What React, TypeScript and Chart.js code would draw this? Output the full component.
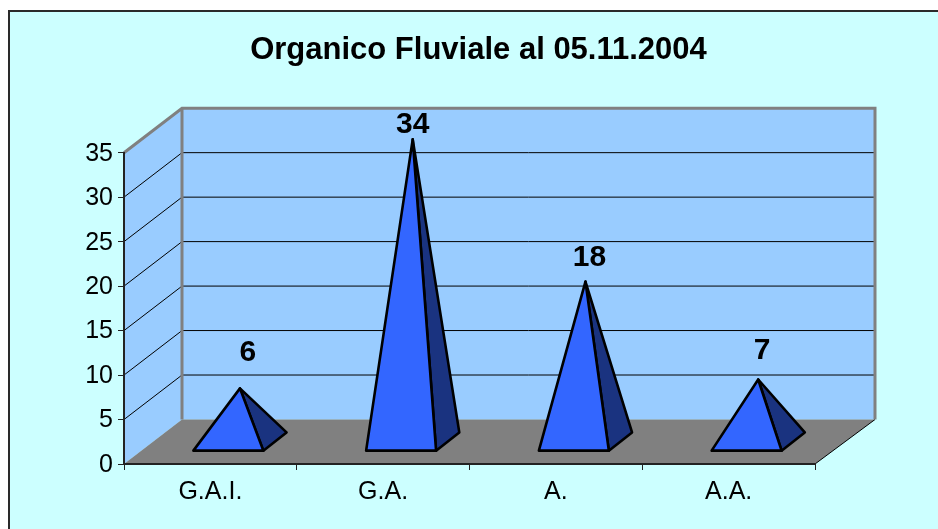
import React, { useEffect, useRef } from "react";
import { Chart, registerables } from "chart.js";

Chart.register(...registerables);

const categories = ["G.A.I.", "G.A.", "A.", "A.A."];
const organico = [6, 34, 18, 7];
const yMax = 35;
const yStep = 5;
const titleText = "Organico Fluviale al 05.11.2004";

const FONT = "'Liberation Sans', Arial, sans-serif";
const DEPTH_X = 58;
const DEPTH_X_RIGHT = 60;
const DEPTH_Y = 44.5;
const NUDGE = [[8, -35.5], [0, -15], [4, -24], [4, -29]];

const scene3d = {
  id: "scene3d",
  afterLayout(chart: any) {
    if (chart.titleBlock) {
      chart.titleBlock.left += 71;
      chart.titleBlock.right += 71;
    }
  },
  beforeDraw(chart: any) {
    const { ctx, chartArea: a, scales } = chart;
    const { left: l, right: r, top: t, bottom: b } = a;
    const dx = DEPTH_X, dxr = DEPTH_X_RIGHT, dy = DEPTH_Y;
    ctx.save();
    // page + chart frame
    ctx.fillStyle = "#ffffff";
    ctx.fillRect(0, 0, chart.width, chart.height);
    ctx.fillStyle = "#CCFFFF";
    ctx.fillRect(9, 11, chart.width, chart.height);
    ctx.strokeStyle = "#2a2a2a";
    ctx.lineWidth = 2;
    ctx.strokeRect(9, 11, chart.width + 20, chart.height + 20);

    const poly = (pts: number[][], fill: string) => {
      ctx.beginPath();
      pts.forEach((p, i) => (i ? ctx.lineTo(p[0], p[1]) : ctx.moveTo(p[0], p[1])));
      ctx.closePath();
      ctx.fillStyle = fill;
      ctx.fill();
    };
    poly([[l, t], [l + dx, t - dy], [l + dx, b - dy], [l, b]], "#99CCFF");
    poly([[l + dx, t - dy], [r + dxr, t - dy], [r + dxr, b - dy], [l + dx, b - dy]], "#99CCFF");
    poly([[l, b], [l + dx, b - dy], [r + dxr, b - dy], [r, b]], "#808080");

    // gridlines on both walls
    ctx.strokeStyle = "#000000";
    ctx.lineWidth = 1;
    for (let v = yStep; v < yMax; v += yStep) {
      const y = scales.y.getPixelForValue(v);
      ctx.beginPath();
      ctx.moveTo(l, y);
      ctx.lineTo(l + dx, y - dy);
      ctx.lineTo(r + dxr, y - dy);
      ctx.stroke();
    }
    // floor right edge
    ctx.beginPath();
    ctx.moveTo(r, b);
    ctx.lineTo(r + dxr, b - dy);
    ctx.stroke();

    // grey wall edges
    ctx.strokeStyle = "#808080";
    ctx.lineWidth = 3;
    ctx.beginPath();
    ctx.moveTo(l, t);
    ctx.lineTo(l + dx, t - dy);
    ctx.lineTo(r + dxr, t - dy);
    ctx.lineTo(r + dxr, b - dy);
    ctx.moveTo(l + dx, t - dy);
    ctx.lineTo(l + dx, b - dy);
    ctx.stroke();
    ctx.restore();
  },
  afterDatasetsDraw(chart: any) {
    const { ctx, scales } = chart;
    const meta = chart.getDatasetMeta(0);
    const base = scales.y.getPixelForValue(0);
    const ds = chart.data.datasets[0];
    ctx.save();
    ctx.lineJoin = "round";
    ctx.lineWidth = 2.6;
    ctx.strokeStyle = "#000000";
    meta.data.forEach((bar: any, i: number) => {
      const hw = bar.width / 2;
      const fx = bar.x + DEPTH_X * 0.31;
      const fy = base - DEPTH_Y * 0.3;
      const bx = bar.x + DEPTH_X * 0.71 + hw;
      const by = base - DEPTH_Y * 0.71;
      const ax = bar.x + DEPTH_X * 0.51;
      const ay = scales.y.getPixelForValue(ds.data[i]) - DEPTH_Y * 0.5;
      const face = (pts: number[][], fill: string) => {
        ctx.beginPath();
        pts.forEach((p, k) => (k ? ctx.lineTo(p[0], p[1]) : ctx.moveTo(p[0], p[1])));
        ctx.closePath();
        ctx.fillStyle = fill;
        ctx.fill();
        ctx.stroke();
      };
      face([[fx + hw, fy], [bx, by], [ax, ay]], "#1A3380");
      face([[fx - hw, fy], [fx + hw, fy], [ax, ay]], "#3366FF");
      ctx.fillStyle = "#000000";
      ctx.font = `bold 30px ${FONT}`;
      ctx.textAlign = "center";
      ctx.textBaseline = "middle";
      ctx.fillText(String(ds.data[i]), ax + NUDGE[i][0], ay + NUDGE[i][1]);
    });
    ctx.restore();
  },
};

export default function App() {
  const ref = useRef<HTMLCanvasElement>(null);
  useEffect(() => {
    const chart = new Chart(ref.current as HTMLCanvasElement, {
      type: "bar",
      data: {
        labels: categories,
        datasets: [
          {
            label: "Organico",
            data: organico,
            backgroundColor: "transparent",
            borderWidth: 0,
            categoryPercentage: 1,
            barPercentage: 0.405,
          },
        ],
      },
      options: {
        responsive: false,
        animation: false,
        layout: { padding: { left: 0, right: 123, top: 0, bottom: 0 } },
        plugins: {
          legend: { display: false },
          tooltip: { enabled: false },
          title: {
            display: true,
            text: titleText,
            color: "#000000",
            font: { family: FONT, size: 31, weight: "bold" },
            padding: { top: 32, bottom: 83.5 },
          },
        },
        scales: {
          x: {
            afterFit: (s: any) => { s.height = 65; },
            grid: { drawOnChartArea: false, tickLength: 6, color: "#222222", lineWidth: 1 },
            border: { color: "#222222", width: 2 },
            ticks: { color: "#000000", font: { family: FONT, size: 25 }, padding: 7, maxRotation: 0 },
          },
          y: {
            min: 0,
            max: yMax,
            afterFit: (s: any) => { s.width = 124; },
            grid: { drawOnChartArea: false, tickLength: 6, color: "#222222", lineWidth: 1 },
            border: { color: "#222222", width: 2 },
            ticks: { stepSize: yStep, color: "#000000", font: { family: FONT, size: 25 }, padding: 5, labelOffset: 1 },
          },
        },
      } as any,
      plugins: [scene3d],
    });
    return () => chart.destroy();
  }, []);
  return (
    <canvas
      ref={ref}
      width={938}
      height={529}
      style={{ position: "fixed", left: 0, top: 0, width: 938, height: 529, display: "block" }}
    />
  );
}
